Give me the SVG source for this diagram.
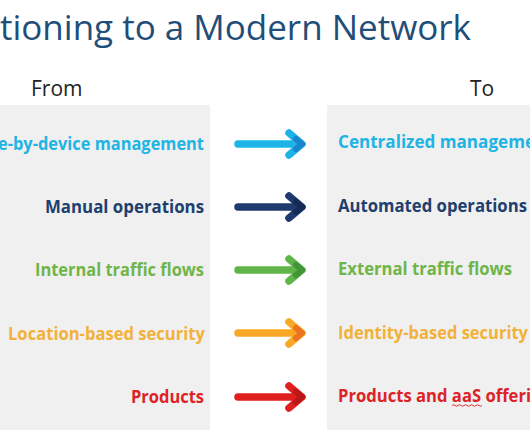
<svg xmlns="http://www.w3.org/2000/svg" width="530" height="443" viewBox="0 0 530 443">
<style>
.title{font-family:"Open Sans","Liberation Sans",sans-serif;font-size:35px;fill:#1f4e79}
.head{font-family:"Open Sans","Liberation Sans",sans-serif;font-size:21px;fill:#222}
.lbl{font-family:"Open Sans","Liberation Sans",sans-serif;font-size:17px;font-weight:bold}
.l{text-anchor:end}
.panel{fill:#f0f0f0}
.arr{fill:none;stroke-width:7.5;stroke-linecap:round;stroke-linejoin:round}
.tip{fill:none;stroke-width:6;stroke-linecap:round;stroke-linejoin:round;opacity:.55}
.c1{fill:#1fb4e4}.c2{fill:#203f6e}.c3{fill:#6fb54a}.c4{fill:#f2b23a}.c5{fill:#dc2428}
</style>
<rect width="530" height="443" fill="#ffffff"/>
<text class="title" x="0" y="40" textLength="471" lengthAdjust="spacingAndGlyphs">tioning to a Modern Network</text>
<text class="head" x="31" y="96">From</text>
<text class="head" x="470" y="96">To</text>
<rect class="panel" x="0" y="105" width="210" height="325"/>
<rect class="panel" x="327" y="105" width="203" height="325"/>

<g id="from-device"><text class="lbl l c1" x="204" y="150" textLength="206" lengthAdjust="spacingAndGlyphs">e-by-device management</text></g>
<g id="from-manual"><text class="lbl l c2" x="204" y="213" textLength="159" lengthAdjust="spacingAndGlyphs">Manual operations</text></g>
<g id="from-internal"><text class="lbl l c3" x="204" y="276" textLength="169" lengthAdjust="spacingAndGlyphs">Internal traffic flows</text></g>
<g id="from-location"><text class="lbl l c4" x="205" y="340" textLength="197" lengthAdjust="spacingAndGlyphs">Location-based security</text></g>
<g id="from-products"><text class="lbl l c5" x="204" y="403" textLength="73" lengthAdjust="spacingAndGlyphs">Products</text></g>

<g id="to-centralized"><text class="lbl c1" x="338" y="148" textLength="197" lengthAdjust="spacingAndGlyphs">Centralized manageme</text></g>
<g id="to-automated"><text class="lbl c2" x="338" y="212" textLength="189" lengthAdjust="spacingAndGlyphs">Automated operations</text></g>
<g id="to-external"><text class="lbl c3" x="338" y="275" textLength="174" lengthAdjust="spacingAndGlyphs">External traffic flows</text></g>
<g id="to-identity"><text class="lbl c4" x="338" y="339" textLength="190" lengthAdjust="spacingAndGlyphs">Identity-based security</text></g>
<g id="to-products"><text class="lbl c5" x="338" y="402" textLength="193" lengthAdjust="spacingAndGlyphs">Products and aaS offeri</text>
<path d="M452 405.5 q1.5 -1.5 3 0 t3 0 t3 0 t3 0 t3 0 t3 0 t3 0 t3 0 t3 0 t3 0" fill="none" stroke="#e03030" stroke-width="1"/></g>

<g id="connectors">
<path class="arr" stroke="#1db3e6" d="M238 144 H298 M289 133 L302 144 L289 155"/>
<path class="tip" stroke="#1a5fb8" d="M296 139 L302 144 L296 149"/>
<path class="arr" stroke="#1e3a6e" d="M238 207 H298 M289 196 L302 207 L289 218"/>
<path class="tip" stroke="#0f1f3f" d="M296 202 L302 207 L296 212"/>
<path class="arr" stroke="#5fb548" d="M238 270 H298 M289 259 L302 270 L289 281"/>
<path class="tip" stroke="#2e7a30" d="M296 265 L302 270 L296 275"/>
<path class="arr" stroke="#f9a825" d="M238 333 H298 M289 322 L302 333 L289 344"/>
<path class="tip" stroke="#e2471e" d="M296 328 L302 333 L296 338"/>
<path class="arr" stroke="#e0201e" d="M238 397 H298 M289 386 L302 397 L289 408"/>
<path class="tip" stroke="#9a1010" d="M296 392 L302 397 L296 402"/>
</g>
</svg>
